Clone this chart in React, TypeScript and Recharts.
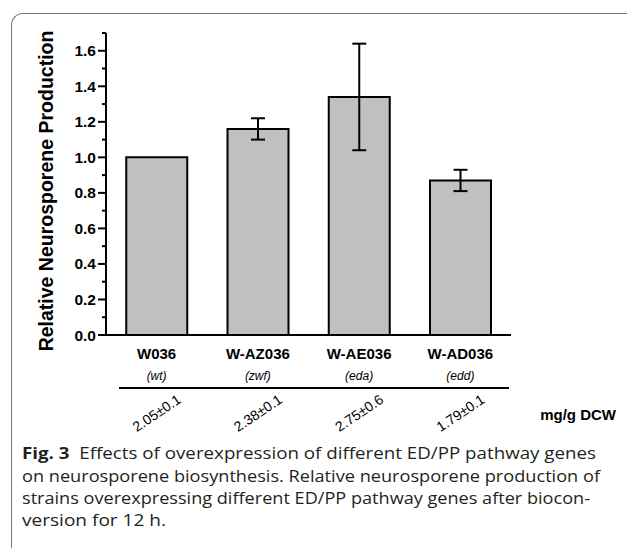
import React from 'react';
import { BarChart, Bar, XAxis, YAxis, ErrorBar } from 'recharts';

const categories = ['W036', 'W-AZ036', 'W-AE036', 'W-AD036'];
const genes = ['(wt)', '(zwf)', '(eda)', '(edd)'];
const relValues = [1.0, 1.16, 1.34, 0.87];
const relErrors = [0, 0.06, 0.3, 0.06];
const yields = ['2.05±0.1', '2.38±0.1', '2.75±0.6', '1.79±0.1'];
const yTicks = [0, 0.1, 0.2, 0.3, 0.4, 0.5, 0.6, 0.7, 0.8, 0.9, 1.0, 1.1, 1.2, 1.3, 1.4, 1.5, 1.6, 1.7];
const yTitle = 'Relative Neurosporene Production';
const unitLabel = 'mg/g DCW';
const captionLines = [
  'Effects of overexpression of different ED/PP pathway genes',
  'on neurosporene biosynthesis. Relative neurosporene production of',
  'strains overexpressing different ED/PP pathway genes after biocon-',
  'version for 12 h.',
];

const data = categories.map((name, i) => ({ name, value: relValues[i], err: relErrors[i] }));

const AX_FONT = '"Liberation Sans", Arial, sans-serif';
const CAP_FONT = '"Open Sans", "Noto Sans", sans-serif';

const YTick = (props: any) => {
  const { x, y, payload } = props;
  const v = payload.value as number;
  const major = Math.round(v * 10) % 2 === 0;
  return (
    <g>
      <line x1={x - (major ? 8 : 4)} x2={x} y1={y} y2={y} stroke="#000" strokeWidth={2} />
      {major && (
        <text x={x - 10} y={y} textAnchor="end" dominantBaseline="central" fontFamily={AX_FONT} fontWeight="bold" fontSize={15.5} fill="#000">
          {v.toFixed(1)}
        </text>
      )}
    </g>
  );
};

const XTick = (props: any) => {
  const { x, y, payload } = props;
  const i = payload.index as number;
  return (
    <g>
      <text x={x} y={y + 18} textAnchor="middle" dominantBaseline="central" fontFamily={AX_FONT} fontWeight="bold" fontSize={15} fill="#000">
        {payload.value}
      </text>
      <text x={x} y={y + 41} textAnchor="middle" dominantBaseline="central" fontFamily={AX_FONT} fontStyle="italic" fontSize={12} fill="#000">
        {genes[i]}
      </text>
      <text x={x} y={y + 78} textAnchor="middle" dominantBaseline="central" fontFamily={AX_FONT} fontSize={14} fill="#000" transform={`rotate(-34, ${x}, ${y + 78})`}>
        {yields[i]}
      </text>
    </g>
  );
};

const YTitle = (props: any) => {
  const vb = props.viewBox || { x: 0, y: 33, width: 106, height: 302 };
  const cx = vb.x + 45.5;
  const cy = vb.y + vb.height / 2 + 7;
  return (
    <text x={cx} y={cy} textAnchor="middle" dominantBaseline="central" fontFamily={AX_FONT} fontWeight="bold" fontSize={19.5} fill="#000" transform={`rotate(-90, ${cx}, ${cy})`}>
      {yTitle}
    </text>
  );
};

export default function App() {
  return (
    <div style={{ position: 'absolute', left: 0, top: 0, width: 627, height: 548, background: '#fff', overflow: 'hidden' }}>
      <div
        style={{
          position: 'absolute', left: 11, top: 13, width: 660, height: 600,
          borderTop: '1.5px solid #777', borderLeft: '1.5px solid #777', borderTopLeftRadius: 12,
        }}
      />
      <div style={{ position: 'absolute', left: 0, top: 0 }}>
        <BarChart width={627} height={445} data={data} margin={{ top: 33, right: 116, left: 0, bottom: 0 }} barCategoryGap="20%">
          <XAxis
            dataKey="name"
            height={110}
            interval={0}
            tickLine={false}
            tickSize={0}
            tickMargin={0}
            axisLine={{ stroke: '#000', strokeWidth: 2 }}
            tick={<XTick />}
          />
          <YAxis
            width={106}
            domain={[0, 1.7]}
            ticks={yTicks}
            interval={0}
            tickLine={false}
            tickSize={0}
            tickMargin={0}
            axisLine={{ stroke: '#000', strokeWidth: 2 }}
            tick={<YTick />}
            label={{ content: (p: any) => <YTitle {...p} /> }}
          />
          <Bar dataKey="value" fill="#c0c0c0" stroke="#000" strokeWidth={2} isAnimationActive={false}>
            <ErrorBar dataKey="err" width={7} strokeWidth={2} stroke="#000" direction="y" />
          </Bar>
        </BarChart>
      </div>
      <svg width={627} height={548} style={{ position: 'absolute', left: 0, top: 0, pointerEvents: 'none' }}>
        <line x1={119} x2={509} y1={388} y2={388} stroke="#000" strokeWidth={2} />
        <text x={616} y={414} textAnchor="end" dominantBaseline="central" fontFamily={AX_FONT} fontWeight="bold" fontSize={15} fill="#000">
          {unitLabel}
        </text>
        <text x={22} y={459} fontFamily={CAP_FONT} fontSize={15.5} fill="#231f20" textLength={574} lengthAdjust="spacingAndGlyphs">
          <tspan fontWeight="bold">Fig. 3</tspan>
          <tspan>{'\u00a0\u00a0' + captionLines[0]}</tspan>
        </text>
        <text x={22} y={482} fontFamily={CAP_FONT} fontSize={15.5} fill="#231f20" textLength={578} lengthAdjust="spacingAndGlyphs">
          {captionLines[1]}
        </text>
        <text x={22} y={504} fontFamily={CAP_FONT} fontSize={15.5} fill="#231f20" textLength={568} lengthAdjust="spacingAndGlyphs">
          {captionLines[2]}
        </text>
        <text x={22} y={526} fontFamily={CAP_FONT} fontSize={15.5} fill="#231f20" textLength={144} lengthAdjust="spacingAndGlyphs">
          {captionLines[3]}
        </text>
      </svg>
    </div>
  );
}
